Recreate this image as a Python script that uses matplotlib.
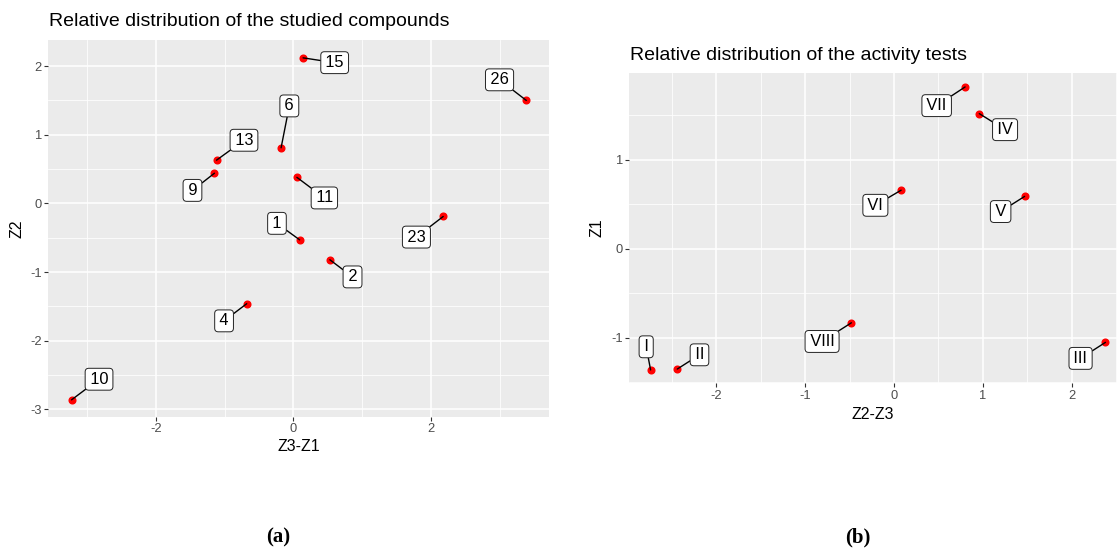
import matplotlib
matplotlib.use("Agg")
import matplotlib.pyplot as plt
from matplotlib.ticker import MultipleLocator

plt.rcParams['font.family'] = ['Liberation Sans', 'DejaVu Sans']
plt.rcParams['axes.unicode_minus'] = False

# compounds (panel a)
comp_labels = ['15', '26', '6', '13', '9', '11', '1', '23', '2', '4', '10']
comp_x = [0.14, 3.39, -0.18, -1.12, -1.15, 0.05, 0.09, 2.18, 0.53, -0.68, -3.23]
comp_y = [2.12, 1.50, 0.81, 0.63, 0.44, 0.38, -0.53, -0.19, -0.82, -1.46, -2.86]
# repel offsets of the labels (layout only)
comp_dx = [0.46, -0.39, 0.12, 0.40, -0.32, 0.40, -0.33, -0.39, 0.33, -0.33, 0.40]
comp_dy = [-0.07, 0.30, 0.61, 0.29, -0.25, -0.30, 0.24, -0.30, -0.25, -0.25, 0.30]

# activity tests (panel b)
test_labels = ['VII', 'IV', 'VI', 'V', 'VIII', 'III', 'I', 'II']
test_x = [0.80, 0.96, 0.08, 1.47, -0.48, 2.38, -2.74, -2.44]
test_y = [1.82, 1.52, 0.66, 0.59, -0.83, -1.05, -1.36, -1.35]
test_dx = [-0.32, 0.29, -0.29, -0.27, -0.33, -0.28, -0.05, 0.25]
test_dy = [-0.21, -0.18, -0.17, -0.17, -0.21, -0.18, 0.26, 0.16]

W, H = 1117, 550
fig = plt.figure(figsize=(W / 100, H / 100), dpi=100)


def make_axes(px_left, px_right, px_top, px_bottom):
    return fig.add_axes([px_left / W, (H - px_bottom) / H,
                         (px_right - px_left) / W, (px_bottom - px_top) / H])


def style_axes(ax, xlabel, ylabel, xlab_y, ylab_x):
    ax.set_facecolor('#EBEBEB')
    for s in ax.spines.values():
        s.set_visible(False)
    ax.xaxis.set_major_locator(MultipleLocator(2 if xlabel == 'Z3-Z1' else 1))
    ax.xaxis.set_minor_locator(MultipleLocator(1 if xlabel == 'Z3-Z1' else 0.5))
    ax.yaxis.set_major_locator(MultipleLocator(1))
    ax.yaxis.set_minor_locator(MultipleLocator(0.5))
    ax.grid(which='major', color='white', linewidth=1.1)
    ax.grid(which='minor', color='white', linewidth=0.55)
    ax.set_axisbelow(True)
    ax.tick_params(which='major', length=2.6, width=0.8, color='#333333',
                   labelcolor='#4D4D4D', labelsize=9.3, pad=2)
    ax.tick_params(which='minor', length=0)
    ax.set_xlabel(xlabel, fontsize=11.4, color='black')
    ax.set_ylabel(ylabel, fontsize=11.4, color='black')
    ax.xaxis.set_label_coords(0.5, xlab_y)
    ax.xaxis.label.set_va('center')
    ax.yaxis.set_label_coords(ylab_x, 0.5)
    ax.yaxis.label.set_va('center')


def draw_points(ax, labels, xs, ys, dxs, dys):
    ax.plot(xs, ys, 'o', color='red', markersize=4.8, zorder=3)
    for lab, x, y, dx, dy in zip(labels, xs, ys, dxs, dys):
        ax.annotate('\u200a' + lab + '\u200a', xy=(x, y), xytext=(x + dx, y + dy),
                    ha='center', va='center', fontsize=11.8, zorder=4,
                    bbox=dict(boxstyle='round,pad=0.21,rounding_size=0.22',
                              fc='white', ec='#222222', lw=0.7),
                    arrowprops=dict(arrowstyle='-', color='black', lw=1.0,
                                    shrinkA=0, shrinkB=0))


# panel a
ax1 = make_axes(48.2, 549, 40, 417)
ax1.set_xlim(-3.57, 3.72)
ax1.set_ylim(-3.11, 2.38)
style_axes(ax1, 'Z3-Z1', 'Z2', -0.079, -0.062)
draw_points(ax1, comp_labels, comp_x, comp_y, comp_dx, comp_dy)

# panel b
ax2 = make_axes(629.3, 1117, 72.7, 383.3)
ax2.set_xlim(-2.98, 2.51)
ax2.set_ylim(-1.51, 1.98)
style_axes(ax2, 'Z2-Z3', 'Z1', -0.099, -0.066)
draw_points(ax2, test_labels, test_x, test_y, test_dx, test_dy)

fig.text(49 / W, 1 - 22 / H, 'Relative distribution of the studied compounds',
         fontsize=14, ha='left', va='center')
fig.text(630 / W, 1 - 55 / H, 'Relative distribution of the activity tests',
         fontsize=14, ha='left', va='center')

fig.text(278 / W, 1 - 537 / H, '(a)', fontsize=15, fontweight='bold',
         family='Liberation Serif', ha='center', va='center')
fig.text(858 / W, 1 - 537 / H, '(b)', fontsize=15, fontweight='bold',
         family='Liberation Serif', ha='center', va='center')

fig.savefig('out.png', dpi=100)
